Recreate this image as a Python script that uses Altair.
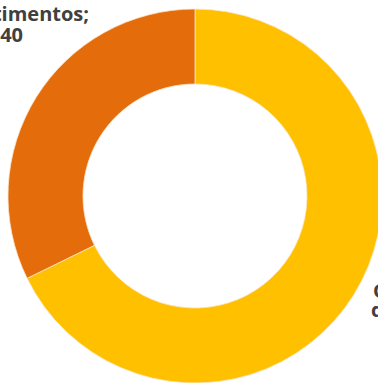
import altair as alt
import pandas as pd

categories = ["Outras despesas", "Investimentos"]
values = [84, 40]
colors = ["#FFC000", "#E46C0A"]
order = [1, 2]

left_lines = ["Investimentos;", "40"]
right_lines = ["Outras", "despesas; 84"]

df = pd.DataFrame({"categoria": categories, "valor": values, "ordem": order})

donut = alt.Chart(df).mark_arc(outerRadius=187, innerRadius=112, stroke="#FBE3C8", strokeWidth=0.8).encode(
    theta=alt.Theta("valor:Q", stack=True),
    order=alt.Order("ordem:Q"),
    color=alt.Color("categoria:N", scale=alt.Scale(domain=categories, range=colors), legend=None),
    x=alt.value(195),
    y=alt.value(196),
)

def label(text, x, y, align):
    return alt.Chart(pd.DataFrame({"t": [text]})).mark_text(
        font="Open Sans", fontWeight="bold", fontSize=20, color="#404040", align=align, baseline="alphabetic"
    ).encode(text="t:N", x=alt.value(x), y=alt.value(y))

l1 = label(left_lines[0], 89, 21, "right")
l2 = label(left_lines[1], 23, 42, "right")
r1 = label(right_lines[0], 373, 298, "left")
r2 = label(right_lines[1], 371, 317, "left")

chart = alt.layer(donut, l1, l2, r1, r2).properties(
    width=378, height=383, padding=0, autosize=alt.AutoSizeParams(type="none")
).configure_view(stroke=None)

chart.save("out.html", embed_options={"renderer": "svg", "actions": False})
